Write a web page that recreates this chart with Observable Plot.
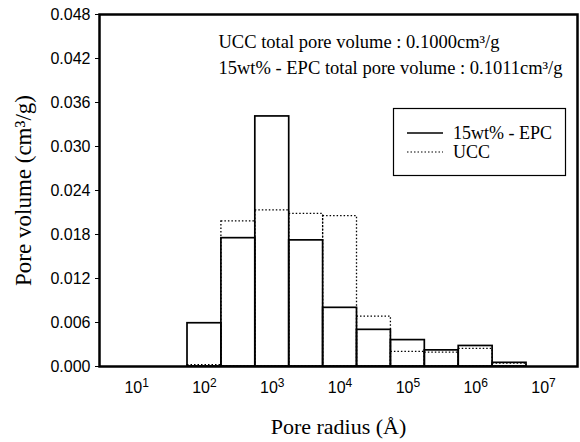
<!DOCTYPE html>
<html><head><meta charset="utf-8">
<script src="https://cdn.jsdelivr.net/npm/d3@7"></script>
<script src="https://cdn.jsdelivr.net/npm/@observablehq/plot@0.6"></script>
<style>body{margin:0;background:#fff}</style>
</head><body><div id="chart"></div>
<script>
// Bin centres as powers of ten (each bin spans half a decade)
const binExponents = [2, 2.5, 3, 3.5, 4, 4.5, 5, 5.5, 6, 6.5];
const epcVolume = [0.0059, 0.0175, 0.0341, 0.0172, 0.0080, 0.0050, 0.0036, 0.0022, 0.0028, 0.0005];
const uccVolume = [0.0002, 0.0198, 0.0213, 0.0208, 0.0205, 0.0068, 0.0020, 0.0019, 0.0024, 0.0004];
const xTickExponents = [1, 2, 3, 4, 5, 6, 7];
const yTicks = [0, 0.006, 0.012, 0.018, 0.024, 0.030, 0.036, 0.042, 0.048];
const seriesNames = ["15wt% - EPC", "UCC"];
const annotations = ["UCC total pore volume : 0.1000cm³/g", "15wt% - EPC total pore volume : 0.1011cm³/g"];
const xLabel = "Pore radius (Å)";
const yLabel = "Pore volume (cm³/g)";

const sup = {"0":"⁰","1":"¹","2":"²","3":"³","4":"⁴","5":"⁵","6":"⁶","7":"⁷","8":"⁸","9":"⁹"};
const unsup = Object.fromEntries(Object.entries(sup).map(([k, v]) => [v, k]));

const rows = (vals, series) => binExponents.map((e, i) => ({
  x1: 10 ** (e - 0.25), x2: 10 ** (e + 0.25), v: vals[i], series
}));

const serif = "'Liberation Serif', 'Times New Roman', serif";

const plot = Plot.plot({
  width: 580, height: 442,
  marginLeft: 99, marginRight: 3, marginTop: 14, marginBottom: 76,
  style: {fontFamily: "'Liberation Sans', Arial, sans-serif", fontSize: "16px", background: "#fff", color: "#000", overflow: "visible"},
  x: {type: "log", domain: [10 ** 0.452, 10 ** 7.502]},
  y: {domain: [0, 0.048]},
  marks: [
    Plot.rect(rows(uccVolume, seriesNames[1]), {x1: "x1", x2: "x2", y1: 0, y2: "v", fill: "none", stroke: "#000", strokeWidth: 1.3, strokeDasharray: "1.5,2"}),
    Plot.rect(rows(epcVolume, seriesNames[0]), {x1: "x1", x2: "x2", y1: 0, y2: "v", fill: "none", stroke: "#000", strokeWidth: 1.7}),
    Plot.frame({stroke: "#000", strokeWidth: 2.5}),
    Plot.axisY({ticks: yTicks, tickFormat: d3.format(".3f"), tickSize: 4, tickPadding: 5,
      label: yLabel, labelAnchor: "center", labelArrow: "none", labelOffset: 85}),
    Plot.axisX({ticks: xTickExponents.map(e => 10 ** e), tickSize: 0, tickPadding: 15,
      tickFormat: d => "10" + String(Math.round(Math.log10(d))).split("").map(c => sup[c]).join(""),
      label: xLabel, labelAnchor: "center", labelArrow: "none", labelOffset: 67}),
    Plot.text([annotations[0]], {frameAnchor: "top-left", dx: 119, dy: 28, text: d => d, textAnchor: "start", lineAnchor: "middle", fontFamily: serif, fontSize: 18.5}),
    Plot.text([annotations[1]], {frameAnchor: "top-left", dx: 119, dy: 53.5, text: d => d, textAnchor: "start", lineAnchor: "middle", fontFamily: serif, fontSize: 18.5})
  ]
});

const svg = d3.select(plot);
// serif axis labels
svg.selectAll('g[aria-label="y-axis label"] text').attr("font-family", serif).attr("font-size", 23);
svg.selectAll('g[aria-label="x-axis label"] text').attr("font-family", serif).attr("font-size", 22);
// superscript exponents on x tick labels
svg.selectAll('g[aria-label="x-axis tick label"] text').each(function () {
  const t = this.textContent;
  const base = t.slice(0, 2);
  const exp = t.slice(2).split("").map(c => unsup[c] ?? c).join("");
  const el = d3.select(this);
  el.text(base);
  el.append("tspan").attr("dy", "-0.45em").attr("font-size", 12).text(exp);
});
// legend
const lg = svg.append("g").attr("aria-label", "legend").attr("text-anchor", "start");
lg.append("rect").attr("x", 393.5).attr("y", 108.5).attr("width", 172).attr("height", 67)
  .attr("fill", "#fff").attr("stroke", "#000").attr("stroke-width", 1.2);
const styles = [{dash: null, w: 1.4}, {dash: "1.5,2", w: 1.2}];
seriesNames.forEach((name, i) => {
  const y = 133 + i * 19;
  lg.append("line").attr("x1", 407).attr("x2", 443).attr("y1", y).attr("y2", y)
    .attr("stroke", "#000").attr("stroke-width", styles[i].w).attr("stroke-dasharray", styles[i].dash);
  lg.append("text").attr("x", 453).attr("y", y).attr("dy", "0.35em").attr("text-anchor", "start")
    .attr("font-family", serif).attr("font-size", 18).text(name);
});
document.getElementById("chart").appendChild(plot);
</script>
</body></html>
